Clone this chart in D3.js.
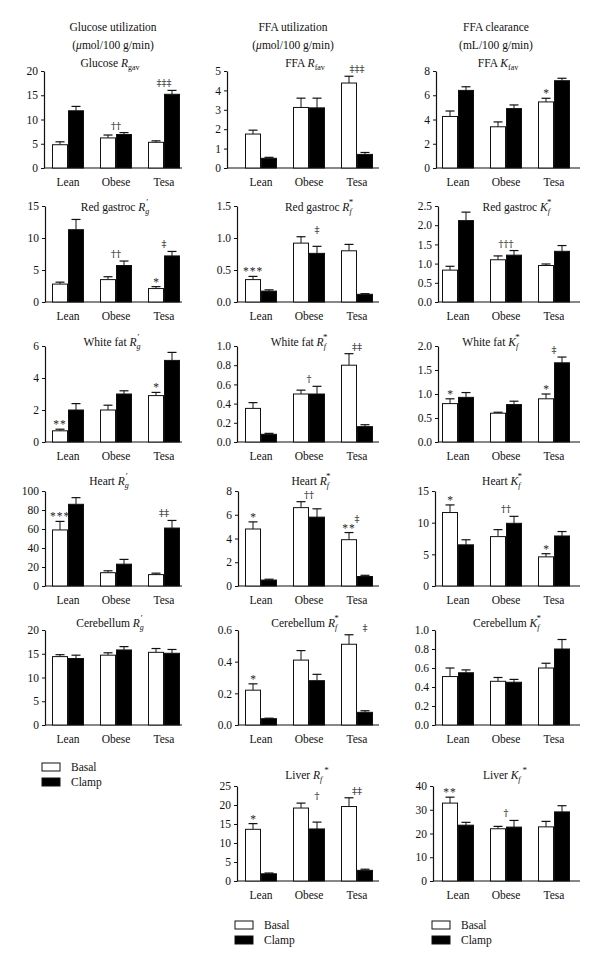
<!DOCTYPE html>
<html><head><meta charset="utf-8">
<script src="https://cdn.jsdelivr.net/npm/d3@7"></script>
<style>body{margin:0;background:#fff} svg text{-webkit-font-smoothing:antialiased;}</style>
</head><body><svg id="c" width="600" height="967"></svg>
<script>
// ---------------- DATA ----------------
const categories = ["Lean", "Obese", "Tesa"];
const seriesNames = ["Basal", "Clamp"];
const headerLines = [
  ["Glucose utilization", "(μmol/100 g/min)"],
  ["FFA utilization", "(μmol/100 g/min)"],
  ["FFA clearance", "(mL/100 g/min)"]
];
const panelPrefix = ["Glucose ", "FFA ", "FFA ",
  "Red gastroc ", "Red gastroc ", "Red gastroc ",
  "White fat ", "White fat ", "White fat ",
  "Heart ", "Heart ", "Heart ",
  "Cerebellum ", "Cerebellum ", "Cerebellum ",
  "Liver ", "Liver "];
const panelSymbol = ["R", "R", "K", "R", "R", "K", "R", "R", "K", "R", "R", "K", "R", "R", "K", "R", "K"];
const panelSub = ["gav", "fav", "fav", "g", "f", "f", "g", "f", "f", "g", "f", "f", "g", "f", "f", "f", "f"];
const panelSup = ["", "", "", "′", "*", "*", "′", "*", "*", "′", "*", "*", "′", "*", "*", "*", "*"];
const yMax = [20, 5, 8, 15, 1.5, 2.5, 6, 1.0, 2.0, 100, 8, 15, 20, 0.6, 1.0, 25, 40];
const yStep = [5, 1, 2, 5, 0.5, 0.5, 2, 0.2, 0.5, 20, 2, 5, 5, 0.2, 0.2, 5, 10];
const tickFmt = ["d", "d", "d", "d", ".1f", ".1f", "d", ".1f", ".1f", "d", "d", "d", "d", ".1f", ".1f", "d", "d"];
const basalMeans = [
  [4.8, 6.2, 5.3], [1.75, 3.12, 4.38], [4.25, 3.4, 5.45],
  [2.8, 3.5, 2.1], [0.35, 0.92, 0.8], [0.83, 1.1, 0.95],
  [0.7, 2.0, 2.9], [0.35, 0.5, 0.8], [0.8, 0.6, 0.9],
  [59, 14, 12], [4.8, 6.6, 3.9], [11.6, 7.8, 4.6],
  [14.4, 14.7, 15.3], [0.22, 0.41, 0.51], [0.51, 0.46, 0.6],
  [13.6, 19.2, 19.6], [32.8, 22, 22.8]];
const basalErrors = [
  [0.6, 0.6, 0.3], [0.2, 0.48, 0.35], [0.45, 0.4, 0.3],
  [0.3, 0.45, 0.3], [0.05, 0.1, 0.1], [0.1, 0.1, 0.04],
  [0.1, 0.3, 0.2], [0.06, 0.04, 0.12], [0.1, 0.02, 0.1],
  [9, 2, 1.5], [0.6, 0.5, 0.6], [1.2, 1.1, 0.5],
  [0.4, 0.5, 0.8], [0.04, 0.06, 0.06], [0.09, 0.04, 0.05],
  [1.5, 1.3, 2.3], [2.5, 1, 2.3]];
const clampMeans = [
  [11.8, 6.9, 15.2], [0.5, 3.1, 0.7], [6.4, 4.9, 7.2],
  [11.3, 5.7, 7.2], [0.17, 0.76, 0.12], [2.12, 1.22, 1.32],
  [2.0, 3.0, 5.1], [0.08, 0.5, 0.16], [0.93, 0.78, 1.65],
  [86, 23, 61], [0.5, 5.8, 0.8], [6.5, 9.9, 7.9],
  [14.0, 15.8, 15.1], [0.04, 0.28, 0.08], [0.55, 0.45, 0.8],
  [1.9, 13.7, 2.8], [23.5, 22.7, 29.1]];
const clampErrors = [
  [0.9, 0.4, 0.8], [0.05, 0.5, 0.1], [0.3, 0.3, 0.2],
  [1.6, 0.7, 0.7], [0.02, 0.11, 0.01], [0.22, 0.12, 0.15],
  [0.4, 0.2, 0.5], [0.01, 0.08, 0.02], [0.1, 0.07, 0.12],
  [7, 5, 8], [0.07, 0.7, 0.1], [0.8, 1.1, 0.7],
  [0.7, 0.7, 0.8], [0.003, 0.04, 0.01], [0.03, 0.03, 0.1],
  [0.2, 1.8, 0.3], [1.2, 2.8, 2.6]];
// significance marks: [panel, group, anchor(b=basal,g=group,c=clamp), text]
const marks = [
  [0, 1, "g", "††"], [0, 2, "g", "‡‡‡"],
  [1, 2, "g", "‡‡‡"],
  [2, 2, "b", "*"],
  [3, 1, "g", "††"], [3, 2, "b", "*"], [3, 2, "g", "‡"],
  [4, 0, "b", "***"], [4, 1, "c", "‡"],
  [5, 1, "g", "†††"],
  [6, 0, "b", "**"], [6, 2, "b", "*"],
  [7, 1, "g", "†"], [7, 2, "g", "‡‡"],
  [8, 0, "b", "*"], [8, 2, "b", "*"], [8, 2, "g", "‡"],
  [9, 0, "b", "***"], [9, 2, "g", "‡‡"],
  [10, 0, "b", "*"], [10, 1, "g", "††"], [10, 2, "b", "**"], [10, 2, "g", "‡"],
  [11, 0, "b", "*"], [11, 1, "g", "††"], [11, 2, "b", "*"],
  [13, 0, "b", "*"], [13, 2, "c", "‡"],
  [15, 0, "b", "*"], [15, 1, "c", "†"], [15, 2, "g", "‡‡"],
  [16, 0, "b", "**"], [16, 1, "g", "†"]
];

// ---------------- LAYOUT ----------------
const FONT = "'Liberation Serif','Times New Roman',serif";
const MARKFONT = "'DejaVu Serif','Liberation Serif',serif";
const panelPos = [[0,0],[0,1],[0,2],[1,0],[1,1],[1,2],[2,0],[2,1],[2,2],[3,0],[3,1],[3,2],[4,0],[4,1],[4,2],[5,1],[5,2]];
const colBarStart = [52, 245, 442];
const colAxisEnd = [182, 379, 580];
const rowTop = [71, 206, 346, 491, 630, 786];
const rowBottom = [168, 302, 442, 586, 725, 881];
const axisXs = [[44,227,436],[45,237,438],[45,237,438],[45,238,435],[45,238,435],[null,237,433]];
const titleXs = [[110,305,498],[115,319,517],[112,299,491],[109,311,502],[110,305,507],[null,307,505]];
const titleYs = [67, 211, 346, 485, 627, 779];
const headerXs = [113, 293, 496];
const headerYs = [31, 49];
const legendPos = [[42, 763], [235, 921], [432, 921]];

const svg = d3.select("#c").style("font-family", FONT);

// headers
headerLines.forEach((lines, c) => {
  lines.forEach((t, k) => {
    const tx = svg.append("text").attr("x", headerXs[c]).attr("y", headerYs[k])
      .attr("text-anchor", "middle").attr("font-size", 11.5).attr("fill", "#111");
    if (t.startsWith("(μ")) {
      tx.append("tspan").text("(");
      tx.append("tspan").attr("font-style", "italic").text("μ");
      tx.append("tspan").text(t.slice(2));
    } else tx.text(t);
  });
});

panelPos.forEach(([r, c], i) => {
  const g = svg.append("g");
  const x = d3.scaleBand().domain(categories)
    .range([colBarStart[c], colBarStart[c] + 128]).paddingInner(1 / 3).paddingOuter(0);
  const xs = d3.scaleBand().domain(seriesNames).range([0, x.bandwidth()]);
  const y = d3.scaleLinear().domain([0, yMax[i]]).range([rowBottom[r], rowTop[r]]);
  const ax = axisXs[r][c];

  // y axis
  const ticks = d3.range(0, yMax[i] + yStep[i] / 2, yStep[i]);
  const yAxis = d3.axisLeft(y).tickValues(ticks).tickSize(3).tickSizeOuter(0)
    .tickFormat(d3.format(tickFmt[i]));
  const ag = g.append("g").attr("transform", `translate(${ax},0)`).call(yAxis);
  ag.select(".domain").attr("stroke", "#111").attr("stroke-width", 1.2);
  ag.selectAll(".tick line").attr("stroke", "#111").attr("stroke-width", 1);
  ag.selectAll(".tick text").attr("font-family", FONT).attr("font-size", 11.5)
    .attr("fill", "#111").attr("x", -6);

  // x axis baseline
  g.append("line").attr("x1", ax).attr("x2", colAxisEnd[c])
    .attr("y1", rowBottom[r]).attr("y2", rowBottom[r])
    .attr("stroke", "#111").attr("stroke-width", 1.2);

  // category labels
  g.selectAll(".cat").data(categories).enter().append("text")
    .attr("x", d => x(d) + x.bandwidth() / 2).attr("y", rowBottom[r] + 18)
    .attr("text-anchor", "middle").attr("font-size", 11.5).attr("fill", "#111")
    .text(d => d);

  // bars
  const barData = [];
  categories.forEach((cat, j) => {
    barData.push({cat, s: "Basal", v: basalMeans[i][j], e: basalErrors[i][j]});
    barData.push({cat, s: "Clamp", v: clampMeans[i][j], e: clampErrors[i][j]});
  });
  const bw = xs.bandwidth();
  // error bars
  barData.forEach(d => {
    const cx = x(d.cat) + xs(d.s) + bw / 2;
    g.append("line").attr("x1", cx).attr("x2", cx)
      .attr("y1", y(d.v)).attr("y2", y(d.v + d.e)).attr("stroke", "#111").attr("stroke-width", 1);
    g.append("line").attr("x1", cx - 4.5).attr("x2", cx + 4.5)
      .attr("y1", y(d.v + d.e)).attr("y2", y(d.v + d.e)).attr("stroke", "#111").attr("stroke-width", 1.2);
  });
  g.selectAll(".bar").data(barData).enter().append("rect")
    .attr("x", d => x(d.cat) + xs(d.s) + 0.5)
    .attr("width", bw - 1)
    .attr("y", d => y(d.v))
    .attr("height", d => y(0) - y(d.v))
    .attr("fill", d => d.s === "Basal" ? "#fff" : "#000")
    .attr("stroke", "#111").attr("stroke-width", 1);

  // significance marks
  const basalMarkTop = {};
  marks.filter(m => m[0] === i && m[2] === "b").forEach(m => {
    const j = m[1], cat = categories[j];
    const top = y(basalMeans[i][j] + basalErrors[i][j]);
    const base = top - 1;
    basalMarkTop[j] = base - 6;
    g.append("text").attr("x", x(cat) + xs("Basal") + bw / 2).attr("y", base)
      .attr("text-anchor", "middle").attr("font-size", 11.5).attr("fill", "#222")
      .attr("letter-spacing", m[3].length > 1 ? 1 : 0)
      .text(m[3]);
  });
  marks.filter(m => m[0] === i && m[2] !== "b").forEach(m => {
    const j = m[1], cat = categories[j];
    let ref = Math.min(y(basalMeans[i][j] + basalErrors[i][j]), y(clampMeans[i][j] + clampErrors[i][j]));
    if (basalMarkTop[j] !== undefined) ref = Math.min(ref, basalMarkTop[j]);
    const cx = m[2] === "g" ? x(cat) + x.bandwidth() / 2 : x(cat) + xs("Clamp") + bw / 2;
    g.append("text").attr("x", cx).attr("y", ref - 4)
      .attr("text-anchor", "middle").attr("font-size", 10).attr("font-family", MARKFONT)
      .attr("fill", "#222").style("font-variant-emoji", "text")
      .text(m[3]);
  });

  // panel title
  const tt = g.append("text").attr("x", titleXs[r][c]).attr("y", titleYs[r])
    .attr("text-anchor", "middle").attr("font-size", 11.5).attr("fill", "#111");
  tt.append("tspan").text(panelPrefix[i]);
  tt.append("tspan").attr("font-style", "italic").text(panelSymbol[i]);
  const sub = panelSub[i];
  tt.append("tspan").attr("font-size", 8).attr("dy", 2.5)
    .attr("font-style", sub.length === 1 ? "italic" : "normal").text(sub);
  if (panelSup[i]) {
    const stacked = r < 5;
    tt.append("tspan").attr("font-size", 9).attr("dy", -8.5)
      .attr("dx", stacked ? -3 : 2).text(panelSup[i]);
  }
});

// legends
legendPos.forEach(([lx, ly]) => {
  seriesNames.forEach((s, k) => {
    svg.append("rect").attr("x", lx).attr("y", ly + k * 15).attr("width", 18).attr("height", 8)
      .attr("fill", s === "Basal" ? "#fff" : "#000").attr("stroke", "#111").attr("stroke-width", 1);
    svg.append("text").attr("x", lx + 29).attr("y", ly + k * 15 + 8)
      .attr("font-size", 11.5).attr("fill", "#111").text(s);
  });
});
</script>
</body></html>
